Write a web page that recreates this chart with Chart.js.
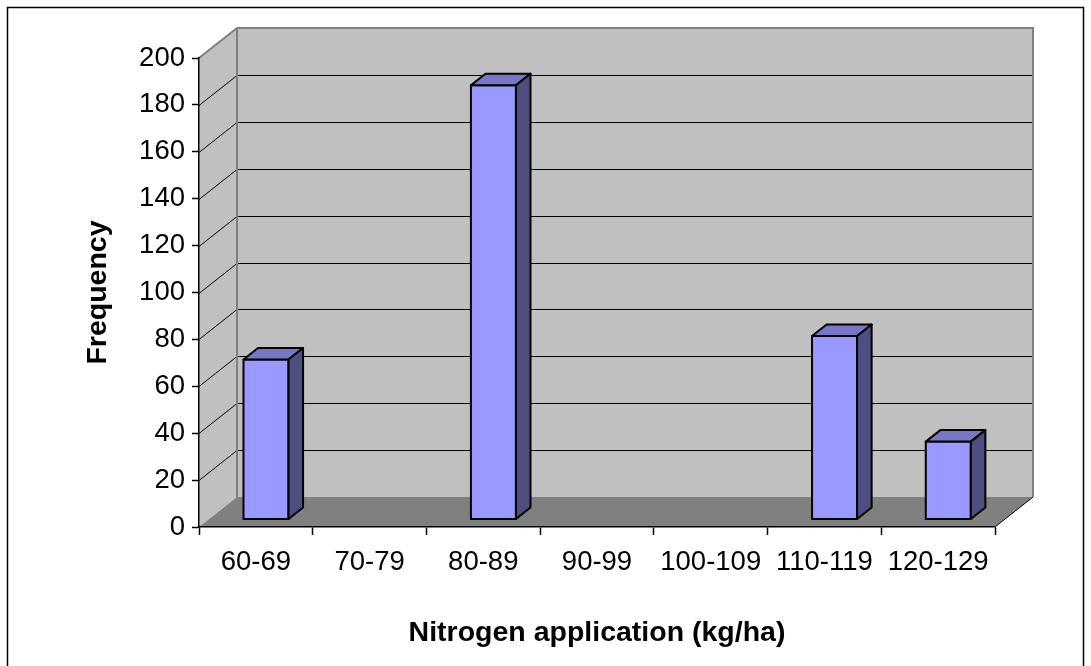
<!DOCTYPE html>
<html>
<head>
<meta charset="utf-8">
<script src="https://cdn.jsdelivr.net/npm/chart.js@4/dist/chart.umd.min.js"></script>
<style>
  html, body { margin: 0; padding: 0; background: #fff; }
  #wrap { width: 1091px; height: 666px; position: relative; }
</style>
</head>
<body>
<div id="wrap"><canvas id="freq-chart"></canvas></div>
<script>
// nitrogen classes and number of fields in each
const categories = ['60-69', '70-79', '80-89', '90-99', '100-109', '110-119', '120-129'];
const frequency = [68, 0, 185, 0, 0, 78, 33];
const yMin = 0;
const yMax = 200;
const yStep = 20;

// fake 3d: how far the back wall sits behind the axes, and where the bars sit in that depth
const DX = 38;
const DY = 30;
const barFront = 0.267;
const barBack = 0.65;

Chart.defaults.font.family = '"Liberation Sans", Arial, sans-serif';
Chart.defaults.color = '#000';

function poly(ctx, pts, fill) {
    ctx.beginPath();
    ctx.moveTo(pts[0][0], pts[0][1]);
    for (let k = 1; k < pts.length; k++) ctx.lineTo(pts[k][0], pts[k][1]);
    ctx.closePath();
    if (fill) {
        ctx.fillStyle = fill;
        ctx.fill();
    }
}

const walls3d = {
    id: 'walls3d',
    beforeDraw(chart) {
        const { ctx, chartArea: a } = chart;
        const y = chart.scales.y;
        const yTop = y.getPixelForValue(yMax);
        const yBot = y.getPixelForValue(yMin);
        ctx.save();
        ctx.fillStyle = '#fff';
        ctx.fillRect(0, 0, chart.width, chart.height);

        // frame round the whole chart
        ctx.strokeStyle = '#000';
        ctx.lineWidth = 1.5;
        ctx.strokeRect(7.5, 7.5, chart.width - 15, chart.height + 20);

        // side wall, back wall, floor
        poly(ctx, [[a.left, yTop], [a.left + DX, yTop - DY], [a.left + DX, yBot - DY], [a.left, yBot]], '#c0c0c0');
        poly(ctx, [[a.left + DX, yTop - DY], [a.right + DX, yTop - DY], [a.right + DX, yBot - DY], [a.left + DX, yBot - DY]], '#c0c0c0');
        poly(ctx, [[a.left, yBot], [a.right, yBot], [a.right + DX, yBot - DY], [a.left + DX, yBot - DY]], '#808080');

        // gridlines run across the side wall then along the back wall
        ctx.strokeStyle = '#000';
        ctx.lineWidth = 1;
        for (let v = yMin + yStep; v < yMax; v += yStep) {
            const py = Math.round(y.getPixelForValue(v)) + 0.5;
            ctx.beginPath();
            ctx.moveTo(a.left, py);
            ctx.lineTo(a.left + DX, py - DY);
            ctx.lineTo(a.right + DX, py - DY);
            ctx.stroke();
        }

        // wall edges
        ctx.strokeStyle = '#808080';
        ctx.lineWidth = 2;
        ctx.beginPath();
        ctx.moveTo(a.left, yTop);
        ctx.lineTo(a.left + DX, yTop - DY);
        ctx.lineTo(a.right + DX, yTop - DY);
        ctx.lineTo(a.right + DX, yBot - DY);
        ctx.moveTo(a.left + DX, yTop - DY);
        ctx.lineTo(a.left + DX, yBot - DY);
        ctx.stroke();

        ctx.strokeStyle = '#000';
        ctx.lineWidth = 1;
        ctx.beginPath();
        ctx.moveTo(a.right, yBot);
        ctx.lineTo(a.right + DX, yBot - DY);
        ctx.stroke();
        ctx.restore();
    },
    afterDatasetsDraw(chart) {
        const { ctx } = chart;
        const y = chart.scales.y;
        const meta = chart.getDatasetMeta(0);
        const fx = DX * barFront, fy = DY * barFront;
        const ddx = DX * (barBack - barFront), ddy = DY * (barBack - barFront);
        ctx.save();
        ctx.lineWidth = 2;
        ctx.lineJoin = 'round';
        ctx.strokeStyle = '#000';
        meta.data.forEach((bar, i) => {
            const v = frequency[i];
            if (!v) return;
            const { x, width } = bar.getProps(['x', 'width'], true);
            const l = x - width / 2 + fx, r = x + width / 2 + fx;
            const t = y.getPixelForValue(v) - fy;
            const b = y.getPixelForValue(yMin) - fy;
            const front = [[l, t], [r, t], [r, b], [l, b]];
            const top = [[l, t], [l + ddx, t - ddy], [r + ddx, t - ddy], [r, t]];
            const side = [[r, t], [r + ddx, t - ddy], [r + ddx, b - ddy], [r, b]];
            poly(ctx, front, '#9999ff'); ctx.stroke();
            poly(ctx, top, '#7777c7'); ctx.stroke();
            poly(ctx, side, '#4e4e80'); ctx.stroke();
        });
        ctx.restore();
    }
};

const ctx = document.getElementById('freq-chart');

const freqChart = new Chart(ctx, {
    type: 'bar',
    data: {
        labels: categories,
        datasets: [{
            label: 'Frequency',
            data: frequency,
            backgroundColor: 'rgba(0,0,0,0)',
            borderWidth: 0,
            categoryPercentage: 1,
            barPercentage: 0.396
        }]
    },
    plugins: [walls3d],
    options: {
        responsive: true,
        maintainAspectRatio: false,
        devicePixelRatio: 1,
        animation: false,
        layout: {
            padding: { left: 0, top: 58, right: 96, bottom: 0 }
        },
        plugins: {
            legend: false,
            tooltip: { enabled: false }
        },
        scales: {
            x: {
                offset: true,
                afterFit: s => { s.height = 139; },
                grid: {
                    offset: true,
                    drawOnChartArea: false,
                    drawTicks: true,
                    tickLength: 8,
                    tickColor: '#000',
                    tickWidth: 1.5
                },
                border: { display: true, color: '#000', width: 1.5 },
                ticks: {
                    font: { size: 27.5 },
                    color: '#000',
                    padding: 11,
                    maxRotation: 0,
                    autoSkip: false
                },
                title: {
                    display: true,
                    text: 'Nitrogen application (kg/ha)',
                    font: { size: 28.5, weight: 'bold' },
                    color: '#000',
                    padding: { top: 0, bottom: 16 }
                }
            },
            y: {
                min: yMin,
                max: yMax,
                afterFit: s => { s.width = 199; },
                grid: {
                    drawOnChartArea: false,
                    drawTicks: true,
                    tickLength: 7,
                    tickColor: '#000',
                    tickWidth: 1.5
                },
                border: { display: true, color: '#000', width: 1.5 },
                ticks: {
                    stepSize: yStep,
                    font: { size: 27.5 },
                    color: '#000',
                    padding: 7
                },
                title: {
                    display: true,
                    text: 'Frequency',
                    font: { size: 28.5, weight: 'bold' },
                    color: '#000',
                    padding: { top: 81, bottom: 0 }
                }
            }
        }
    }
});
</script>
</body>
</html>
